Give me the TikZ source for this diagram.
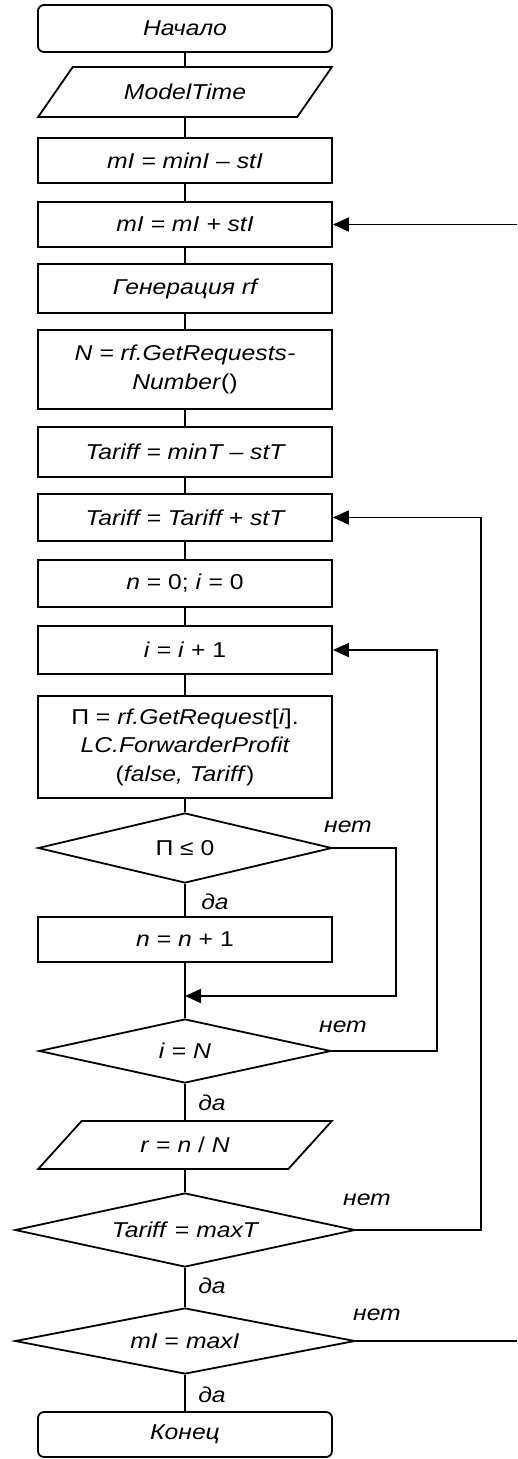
\documentclass[tikz,border=0pt]{standalone}
\usepackage{fontspec}
\setmainfont{Liberation Sans}[FakeStretch=1.15]
\usepackage{tikz}
\usetikzlibrary{arrows.meta,positioning,shapes.geometric}

\newcommand{\up}[1]{\textup{#1}}
\tikzset{
  blk/.style={draw,line width=1.8pt,minimum width=294pt,inner sep=0pt,align=center},
  term/.style={blk,rounded corners=6pt},
  io/.style={blk,trapezium,trapezium left angle=40,trapezium right angle=140,trapezium stretches=true},
  cond/.style={draw,line width=1.8pt,diamond,aspect=4,inner sep=0pt},
  flow/.style={line width=1.8pt},
  back/.style={flow,-{Triangle[length=16pt,width=14pt]}},
  ans/.style={inner sep=0pt}
}

\begin{document}
\begin{tikzpicture}[x=1pt,y=1pt,font=\fontsize{21.5pt}{28.5pt}\selectfont\itshape]
  \useasboundingbox (0,0) rectangle (517,-1459);
  \node[term,minimum height=47pt] (start) at (185,-28.5) {Начало};
  \node[io,minimum height=50pt] (mt) at (185,-92) {ModelTime};
  \node[blk,minimum height=45pt] (b1) at (185,-160.5) {mI = minI – stI};
  \node[blk,minimum height=45pt] (b2) at (185,-224.5) {mI = mI + stI};
  \node[blk,minimum height=49pt] (gen) at (185,-288.5) {Генерация rf};
  \node[blk,minimum height=79pt] (nreq) at (185,-369.5)
    {N = rf.GetRequests-\\Number\up{()}};
  \node[blk,minimum height=50pt] (t0) at (185,-452) {Tariff = minT – stT};
  \node[blk,minimum height=47pt] (t1) at (185,-517.5) {Tariff = Tariff + stT};
  \node[blk,minimum height=47pt] (init) at (185,-583.5) {n \up{= 0;} i \up{= 0}};
  \node[blk,minimum height=48pt] (inc) at (185,-650) {i \up{=} i \up{+ 1}};
  \node[blk,minimum height=102pt] (prof) at (185,-747)
    {\up{Π =} rf.GetRequest\up{[}i\up{].}\\LC.ForwarderProfit\\\up{(}false, Tariff\up{)}};
  \node[cond,minimum width=294pt,minimum height=70pt] (d1) at (185,-848) {\up{Π ≤ 0}};
  \node[blk,minimum height=45pt] (cnt) at (185,-939.5) {n \up{=} n \up{+ 1}};
  \node[cond,minimum width=292pt,minimum height=64pt] (d2) at (185,-1051) {i \up{=} N};
  \node[io,minimum height=48pt] (res) at (185,-1145) {r \up{=} n \up{/} N};
  \node[cond,minimum width=340pt,minimum height=74pt] (d3) at (185,-1230) {Tariff \up{=} maxT};
  \node[cond,minimum width=340pt,minimum height=66pt] (d4) at (185,-1341) {mI \up{=} maxI};
  \node[term,minimum height=45pt] (stop) at (185,-1434.5) {Конец};

  \foreach \a/\b in {start/mt,mt/b1,b1/b2,b2/gen,gen/nreq,nreq/t0,t0/t1,t1/init,
    init/inc,inc/prof,prof/d1,d1/cnt,cnt/d2,d2/res,res/d3,d3/d4,d4/stop}
    \draw[flow] (\a) -- (\b);

  \coordinate (j) at (185,-996);
  \coordinate (k1) at (396,-996);
  \coordinate (k2) at (437,-1051);
  \coordinate (k3) at (481,-1230);
  \coordinate (k4) at (517,-1341);
  \coordinate (k5) at (517,-224.5);
  \draw[back] (d1.east) -| (k1) -- (j);
  \draw[back] (d2.east) -- (k2) |- (inc.east);
  \draw[back] (d3.east) -- (k3) |- (t1.east);
  \draw[flow] (d4.east) -- (k4);
  \draw[back] (k5) -- (b2.east);

  \node[ans] (no1) at (348,-827) {нет};
  \node[ans] (no2) at (343,-1027) {нет};
  \node[ans] (no3) at (367,-1200) {нет};
  \node[ans] (no4) at (377,-1315) {нет};
  \node[ans] (yes1) at (215,-902) {да};
  \node[ans] (yes2) at (212,-1103) {да};
  \node[ans] (yes3) at (212,-1286) {да};
  \node[ans] (yes4) at (212,-1395) {да};
\end{tikzpicture}
\end{document}
